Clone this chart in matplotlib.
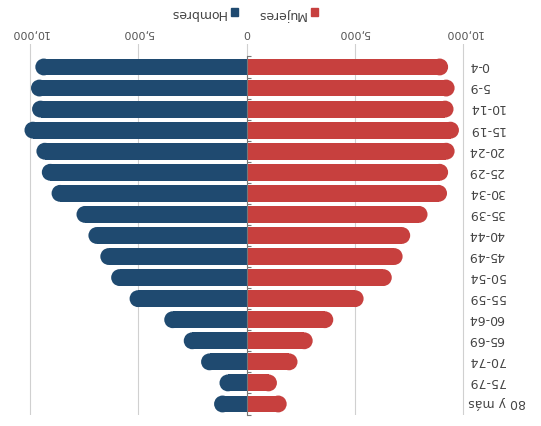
import matplotlib
matplotlib.use("Agg")
import matplotlib.pyplot as plt
import matplotlib.transforms as mtransforms
from matplotlib.patches import Ellipse, Patch

# datos (imagen escaneada al revés: se dibuja girada 180°)
edades = ["0-4", "5-9", "10-14", "15-19", "20-24", "25-29", "30-34", "35-39", "40-44",
          "45-49", "50-54", "55-59", "60-64", "65-69", "70-74", "75-79", "80 y más"]
hombres = [9750, 9950, 9900, 10250, 9700, 9450, 9000, 7850, 7300,
           6750, 6250, 5400, 3800, 2900, 2100, 1250, 1500]
mujeres = [9300, 9600, 9550, 9800, 9600, 9300, 9250, 8350, 7550,
           7200, 6700, 5400, 4000, 3050, 2350, 1400, 1850]
ticks = [-10000, -5000, 0, 5000, 10000]
tick_labels = ["10,000", "5,000", "0", "5,000", "10,000"]

azul = "#1f4a70"
rojo = "#c7403e"

W, H = 541, 427
fig = plt.figure(figsize=(W / 100, H / 100), dpi=100)
left_px, right_px, top_px, bot_px = 18, 467.6, 44.8, 415.5
ax = fig.add_axes([left_px / W, 1 - bot_px / H, (right_px - left_px) / W, (bot_px - top_px) / H])
xmin, xmax = -10550, 10200
ymax, ymin = 16.5, -1.1
ax.set_xlim(xmin, xmax)
ax.set_ylim(ymax, ymin)

# radio de la punta redondeada en unidades de datos
alto = 0.8
ux = (xmax - xmin) / (right_px - left_px)
py = (bot_px - top_px) / (ymax - ymin)
rx = alto / 2 * py * ux

y = list(range(len(edades)))
ax.barh(y, [-(h - rx) for h in hombres], height=alto, color=azul, lw=0, zorder=2)
ax.barh(y, [m - rx for m in mujeres], height=alto, color=rojo, lw=0, zorder=2)
for i in y:
    ax.add_patch(Ellipse((-(hombres[i] - rx), i), 2 * rx, alto, color=azul, lw=0, zorder=2))
    ax.add_patch(Ellipse((mujeres[i] - rx, i), 2 * rx, alto, color=rojo, lw=0, zorder=2))

# eje x arriba, texto girado
ax.set_xticks(ticks)
ax.set_xticklabels(tick_labels)
ax.xaxis.tick_top()
ax.tick_params(axis="x", length=0, pad=5, labelsize=8, labelcolor="#555555", labelrotation=180)
ax.grid(axis="x", color="#d0d0d0", lw=0.8, zorder=0)
ax.set_axisbelow(True)

# etiquetas de edad a la derecha (giradas)
ax.set_yticks([])
trans = mtransforms.blended_transform_factory(ax.transAxes, ax.transData)
for i, e in enumerate(edades):
    ax.text(1.002, i - 0.1, e, transform=trans, rotation=180, ha="left", va="center",
            fontsize=9, color="#444444")
ax.set_yticks([i - 0.5 for i in range(len(edades) + 1)], minor=True)
ax.tick_params(axis="y", which="minor", left=True, right=False, direction="in",
               length=3, width=0.8, color="#777777", labelleft=False)

for s in ["top", "right", "bottom"]:
    ax.spines[s].set_visible(False)
ax.spines["left"].set_position(("data", 0))
ax.spines["left"].set_bounds(-0.5, 16.5)
ax.spines["left"].set_color("#777777")
ax.spines["left"].set_linewidth(0.8)
ax.spines["left"].set_zorder(3)

handles = [Patch(color=azul, label="Hombres"), Patch(color=rojo, label="Mujeres")]
leg = fig.legend(handles=handles, loc="center", bbox_to_anchor=(244 / W, 1 - 14 / H),
                 ncol=2, frameon=False, markerfirst=False, fontsize=9,
                 handlelength=0.6, handleheight=0.6, handletextpad=0.4, columnspacing=1.5)
for t in leg.get_texts():
    t.set_rotation(180)
    t.set_color("#444444")

fig.savefig("out.png", dpi=100)
